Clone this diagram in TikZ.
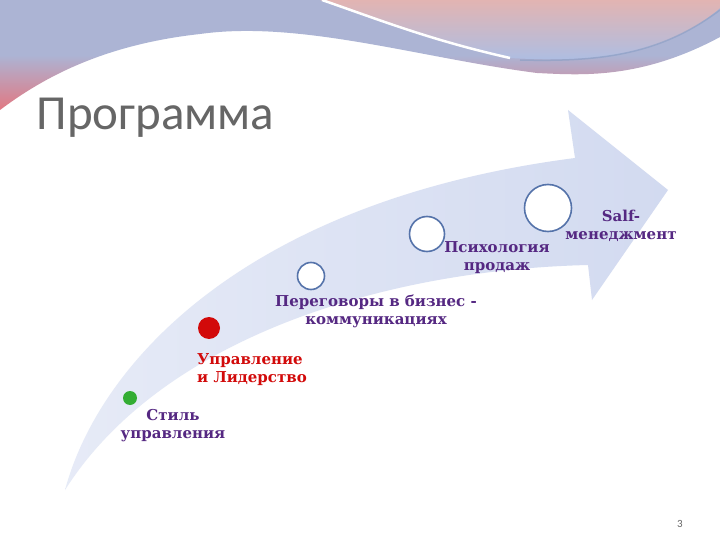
\documentclass[tikz,border=0pt]{standalone}
\usepackage{fontspec}
\setmainfont{DejaVu Serif}
\newfontfamily\titlefont{Carlito}
\begin{document}
\begin{tikzpicture}[x=1pt,y=-1pt,
  ring/.style={circle,draw=ringc,line width=1.6pt,fill=white,inner sep=0pt},
  lbl/.style={font=\bfseries\fontsize{15}{18}\selectfont,text=labc,align=center}]
\definecolor{ringc}{RGB}{85,115,170}
\definecolor{labc}{RGB}{85,40,130}
\definecolor{redc}{RGB}{210,10,10}
\definecolor{arrc}{RGB}{210,218,240}
\definecolor{bandl}{RGB}{172,180,212}
\definecolor{bandp}{RGB}{226,120,130}
\definecolor{peach}{RGB}{226,180,178}
\definecolor{bluey}{RGB}{172,190,228}
\useasboundingbox (0,0) rectangle (720,540);
\fill[white] (0,0) rectangle (720,540);
% top band
\shade[top color=bandl,bottom color=bandp,middle color=bandl]
 (0,0) -- (720,0) -- (720,37) .. controls (640,80) and (580,75) .. (537,73)
 .. controls (420,58) and (300,20) .. (200,34) .. controls (100,45) and (40,80) .. (0,110) -- cycle;
\shade[top color=peach,bottom color=bluey] (320,0) -- (720,0) -- (720,8)
 .. controls (660,60) and (580,62) .. (510,58) .. controls (430,40) and (380,20) .. (320,0) -- cycle;
\draw[white,line width=2.5pt] (322,0) .. controls (380,20) and (430,40) .. (510,58);
\draw[ringc!70,line width=1.5pt,opacity=.6] (520,60) .. controls (600,62) and (660,55) .. (720,10);
% title
\node[anchor=west,font=\titlefont\fontsize{49}{50}\selectfont,text=black!60] (title) at (33,118) {Программа};
% big arrow
\shade[left color=arrc!55,right color=arrc]
 (65,490) .. controls (100,360) and (250,200) .. (575,158) -- (568,110) -- (668,190)
 -- (592,300) -- (588,265) .. controls (380,270) and (160,340) .. (65,490) -- cycle;
% circles
\node[circle,fill=green!60!black!80,minimum size=14pt,inner sep=0pt] (c1) at (130,398) {};
\node[circle,fill=redc,minimum size=22pt,inner sep=0pt] (c2) at (209,328) {};
\node[ring,minimum size=27pt] (c3) at (311,276) {};
\node[ring,minimum size=35pt] (c4) at (427,234) {};
\node[ring,minimum size=47pt] (c5) at (548,208) {};
% labels
\node[lbl] (t1) at (173,426) {Стиль\\управления};
\node[lbl,text=redc,align=left] (t2) at (252,370) {Управление\\и Лидерство};
\node[lbl] (t3) at (376,311) {Переговоры в бизнес -\\коммуникациях};
\node[lbl] (t4) at (497,258) {Психология\\продаж};
\node[lbl] (t5) at (621,226) {Salf-\\менеджмент};
\node[font=\titlefont\fontsize{11}{12}\selectfont,text=black!60] (pg) at (680,524) {3};
\end{tikzpicture}
\end{document}
